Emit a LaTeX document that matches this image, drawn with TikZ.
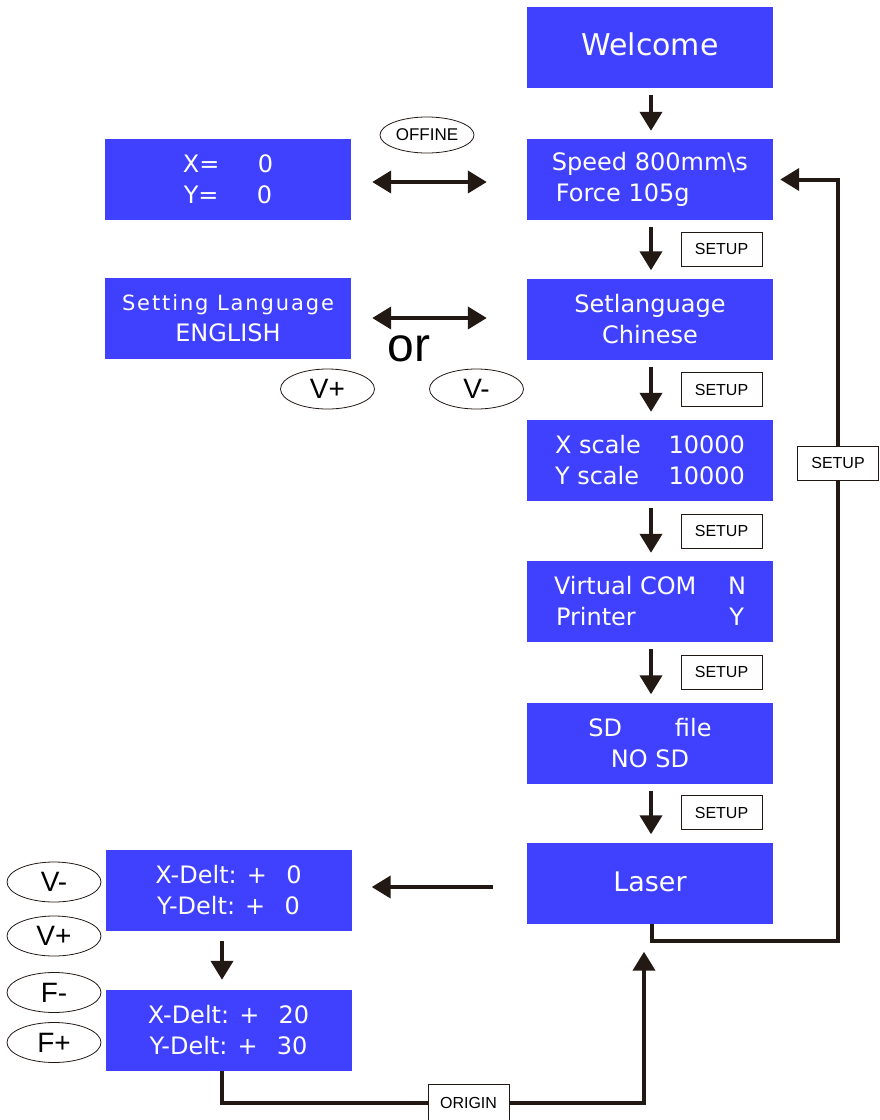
\documentclass[tikz,border=0pt]{standalone}
\usepackage{fontspec}
\setmainfont{DejaVu Sans}
\newfontfamily\lab{Liberation Sans}
\usetikzlibrary{arrows.meta,shapes.geometric}
\definecolor{lcd}{RGB}{64,64,255}
\definecolor{ink}{RGB}{35,25,20}
\tikzset{
  lcdbox/.style={fill=lcd, text=white, minimum width=246pt, minimum height=81pt, inner sep=0pt, align=center, font=\fontsize{24}{31}\selectfont},
  keyoval/.style={ellipse, draw=ink, line width=0.8pt, minimum width=94pt, minimum height=40pt, inner sep=0pt, font=\lab\fontsize{28}{28}\selectfont},
  setupbox/.style={draw=ink, line width=0.6pt, fill=white, minimum width=81pt, minimum height=34pt, inner sep=0pt, font=\lab\fontsize{16}{16}\selectfont},
  flow/.style={line width=4pt, draw=ink, -{Triangle[length=19pt,width=22pt]}},
  dflow/.style={line width=4pt, draw=ink, {Triangle[length=19pt,width=22pt]}-{Triangle[length=19pt,width=22pt]}},
}
\begin{document}
\begin{tikzpicture}[x=1pt,y=-1pt]
\useasboundingbox (0,0) rectangle (880,1120);
% right column
\node[lcdbox, font=\fontsize{30}{31}\selectfont] (welcome) at (650,47.5) {\raisebox{6pt}{Welcome}};
\node[lcdbox, align=left] (speed) at (650,179.5) {Speed 800mm\textbackslash s\\\hspace{4pt}Force 105g};
\node[lcdbox] (setlang) at (650,319) {Setlanguage\\Chinese};
\node[lcdbox] (xscale) at (650,460.5) {\makebox[190pt][l]{X scale\hfill 10000}\\\makebox[190pt][l]{Y scale\hfill 10000}};
\node[lcdbox] (vcom) at (650,601.5) {\makebox[192pt][l]{Virtual COM\hfill N}\\\makebox[188pt][l]{Printer\hfill Y}};
\node[lcdbox] (sd) at (650,743) {SD\hspace{2.2em}file\\NO SD};
\node[lcdbox, font=\fontsize{27}{31}\selectfont] (laser) at (650,883) {\raisebox{2pt}{Laser}};
% left column
\node[lcdbox] (xy) at (228,179.5) {X=\hspace{1.6em}0\\Y=\hspace{1.6em}0};
\node[lcdbox, font=\fontsize{21}{31}\selectfont] (eng) at (228,318.5) {{\addfontfeatures{LetterSpace=9}Setting Language}\\{\fontsize{24}{31}\selectfont ENGLISH}};
\node[lcdbox] (xd0) at (228.5,890.5) {X-Delt: +\hspace{0.8em}0\\Y-Delt: +\hspace{0.8em}0};
\node[lcdbox] (xd20) at (228.5,1030.5) {X-Delt: +\hspace{0.8em}20\\Y-Delt: +\hspace{0.8em}30};
% keys
\node[keyoval, minimum width=94pt, minimum height=36pt, font=\lab\fontsize{17}{17}\selectfont] (offine) at (427,135) {OFFINE};
\node[keyoval] (vplus) at (327.5,389) {V+};
\node[keyoval] (vminus) at (476.5,389) {V-};
\node[font=\lab\fontsize{48}{48}\selectfont] (or) at (409,349) {or};
\node[keyoval] (kvm) at (54,882) {V-};
\node[keyoval] (kvp) at (54,936) {V+};
\node[keyoval] (kfm) at (54,992.5) {F-};
\node[keyoval] (kfp) at (54,1042.5) {F+};
% down arrows
\foreach \a/\b in {welcome/speed,speed/setlang,setlang/xscale,xscale/vcom,vcom/sd,sd/laser}
  \draw[flow, shorten <=7pt, shorten >=8pt] ([xshift=1pt]\a.south) -- ([xshift=1pt]\b.north);
\foreach \a/\b/\y in {speed/setlang/249,setlang/xscale/389.5,xscale/vcom/531,vcom/sd/672,sd/laser/812.5}
  \node[setupbox] at (721.5,\y) {SETUP};
\draw[flow, shorten <=10pt, shorten >=10pt] (xd0.south -| 222,0) -- (xd20.north -| 222,0);
% horizontal arrows
\draw[dflow, shorten <=21pt, shorten >=40pt] (xy.east |- 0,182) -- (speed.west |- 0,182);
\draw[dflow, shorten <=21pt, shorten >=40pt] (eng.east |- 0,318) -- (setlang.west |- 0,318);
\draw[flow, shorten <=34pt, shorten >=20pt] (laser.west |- 0,887) -- (xd0.east |- 0,887);
% loop back
\coordinate (loopc) at (838,179.5);
\draw[flow, shorten >=7pt] ([xshift=2pt]laser.south) -- ++(0,17) -| (loopc) -- (speed.east);
\node[setupbox] at (838,463) {SETUP};
% origin
\coordinate (origc) at (644,1103);
\draw[flow, shorten >=28pt] (xd20.south -| 222,0) |- (origc) -- (laser.south -| 644,0);
\node[setupbox, minimum height=38pt] at (468.5,1103) {ORIGIN};
\end{tikzpicture}
\end{document}
